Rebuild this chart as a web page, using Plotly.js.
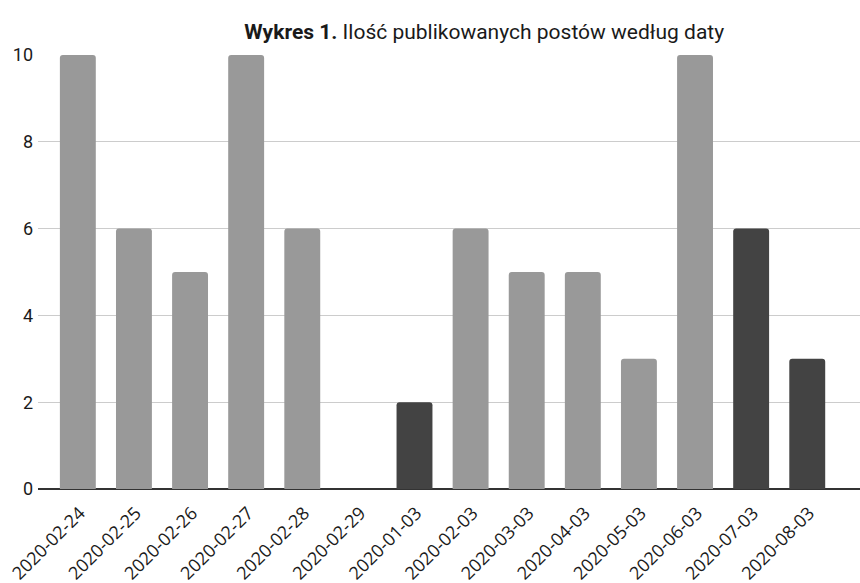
<!DOCTYPE html>
<html>
<head>
<meta charset="utf-8">
<script src="https://cdn.plot.ly/plotly-3.0.1.min.js"></script>
<style>
  html, body { margin: 0; padding: 0; background: #fff; }
  #chart { width: 860px; height: 583px; }
</style>
</head>
<body>
<div id="chart"></div>
<script>
// Number of published posts per date
const dates = [
  "2020-02-24", "2020-02-25", "2020-02-26", "2020-02-27", "2020-02-28",
  "2020-02-29", "2020-01-03", "2020-02-03", "2020-03-03", "2020-04-03",
  "2020-05-03", "2020-06-03", "2020-07-03", "2020-08-03"
];
const posts = [10, 6, 5, 10, 6, 0, 2, 6, 5, 5, 3, 10, 6, 3];
// dates highlighted with the darker shade
const highlighted = ["2020-01-03", "2020-07-03", "2020-08-03"];

const light = "#999999";
const dark = "#434343";

const trace = {
  type: "bar",
  x: dates,
  y: posts,
  marker: {
    color: dates.map(d => highlighted.includes(d) ? dark : light),
    cornerradius: 3,
    line: { width: 0 }
  },
  hoverinfo: "x+y"
};

const layout = {
  width: 860,
  height: 583,
  margin: { l: 38, r: 0, t: 55, b: 94 },
  paper_bgcolor: "#ffffff",
  plot_bgcolor: "#ffffff",
  bargap: 0.36,
  showlegend: false,
  title: {
    text: "<b>Wykres 1.</b> Ilość publikowanych postów według daty",
    font: { family: "Roboto", size: 21, color: "#1a1a1a" },
    x: 0.563,
    xanchor: "center",
    y: 0.945,
    yanchor: "middle"
  },
  xaxis: {
    type: "category",
    range: [-0.71, 13.94],
    tickangle: -45,
    tickfont: { family: "Open Sans", size: 18, color: "#1a1a1a" },
    showgrid: false,
    showline: false,
    zeroline: false,
    ticks: "",
    ticklabelstandoff: 9,
    ticklabelshift: 2
  },
  yaxis: {
    range: [0, 10],
    dtick: 2,
    tickfont: { family: "Roboto", size: 18, color: "#1a1a1a" },
    gridcolor: "#cccccc",
    gridwidth: 1,
    zeroline: true,
    zerolinecolor: "#333333",
    zerolinewidth: 2,
    showline: false,
    ticks: "",
    ticklabelstandoff: 4
  }
};

Plotly.newPlot("chart", [trace], layout, { displayModeBar: false, staticPlot: true });
</script>
</body>
</html>
